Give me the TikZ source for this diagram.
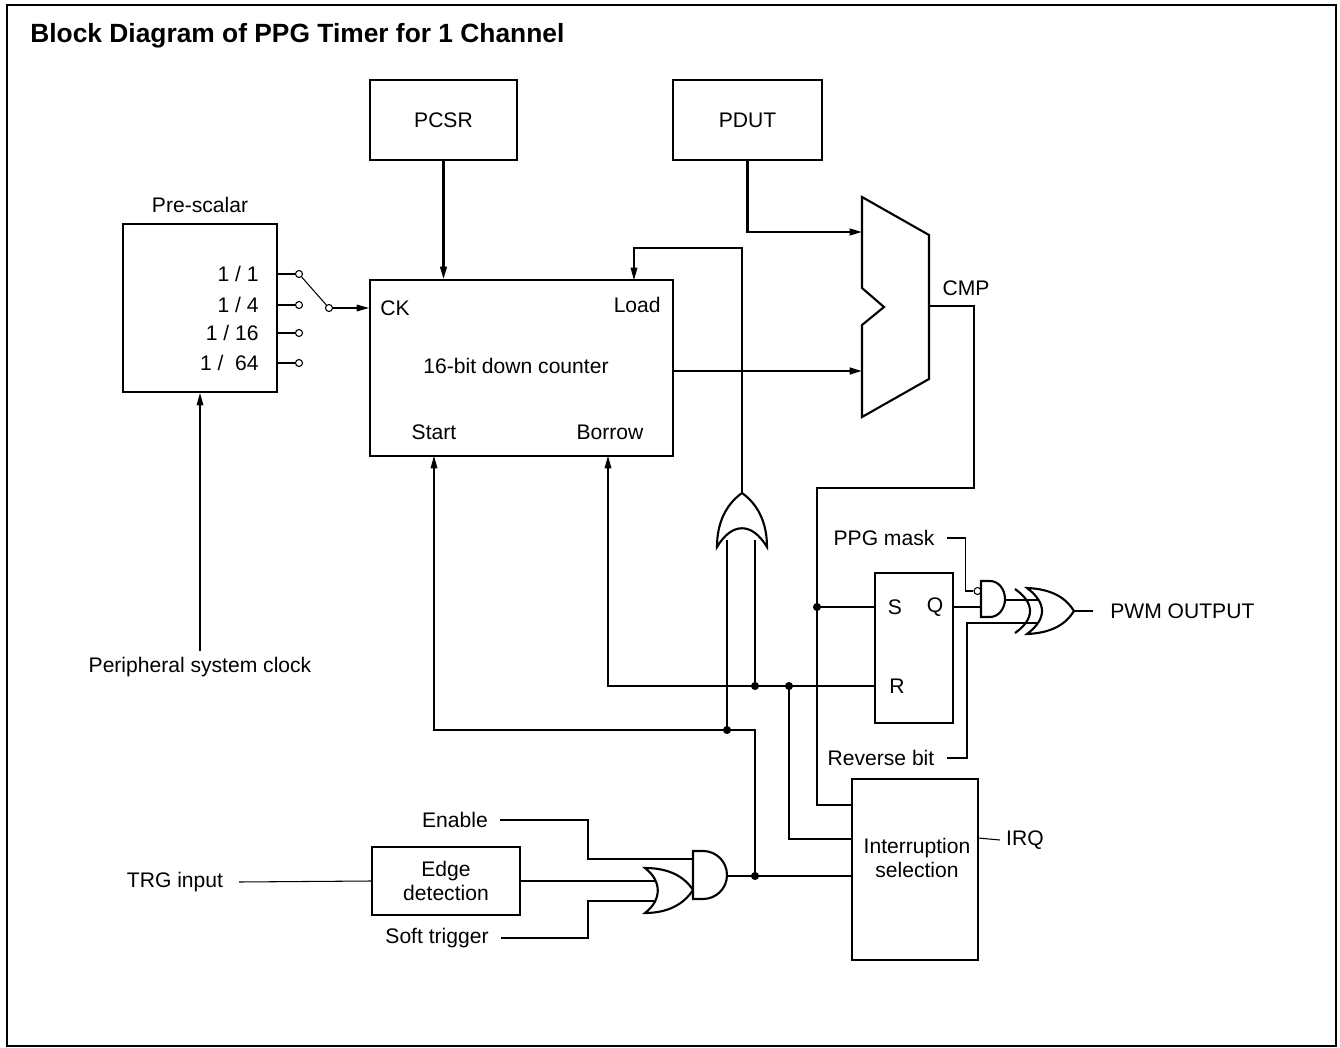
\documentclass[tikz,border=0pt]{standalone}
\usepackage{fontspec}
\setmainfont{Liberation Sans}
\usetikzlibrary{arrows.meta}

\tikzset{
	box/.style={draw, line width=1.2pt, inner sep=0pt},
	lbl/.style={inner xsep=7pt},
	wire/.style={line width=0.6pt},
	sig/.style={line width=0.6pt, -{Triangle[length=7pt, width=3.8pt]}},
	bus/.style={line width=1.2pt, -{Triangle[length=7pt, width=3.8pt]}},
	gate/.style={line width=1.2pt, fill=white},
	contact/.style={circle, draw, line width=0.6pt, fill=white, inner sep=0pt, minimum size=4pt},
	junction/.style={circle, fill, inner sep=0pt, minimum size=4.6pt},
}

\begin{document}
\begin{tikzpicture}[x=0.02cm, y=-0.02cm, font=\fontsize{12}{14}\selectfont]
	\useasboundingbox (0,0) rectangle (1340,1048);
	% frame and title
	\draw[line width=1.2pt] (7,5) rectangle (1336,1046);
	\node[anchor=west, inner sep=0pt, font=\bfseries\fontsize{15}{18}\selectfont] (title) at (30,36) {Block Diagram of PPG Timer for 1 Channel};

	% registers
	\node[box, minimum width=2.94cm, minimum height=1.6cm] (pcsr) at (443.5,120) {PCSR};
	\node[box, minimum width=2.98cm, minimum height=1.6cm] (pdut) at (747.5,120) {PDUT};

	% pre-scalar and clock switch
	\node (presclbl) at (200,205) {Pre-scalar};
	\node[box, minimum width=3.08cm, minimum height=3.36cm] (presc) at (200,308) {};
	\foreach \y/\d [count=\i] in {274/1, 305/4, 333/16, 363/{\ 64}} {
		\node[anchor=east, inner sep=0pt] (div\i) at (259,\y) {1 / \d};
		\node[contact] (c\i) at (299,\y) {};
		\draw[wire] (presc.east |- c\i) -- (c\i.west);
	}
	\node[contact] (pivot) at (329,308) {};
	\draw[wire] (c1) -- (pivot);
	\node (psc) at (200,667) {Peripheral system clock};
	\draw[sig] (psc.north) -- (presc.south);

	% 16-bit down counter
	\node[box, minimum width=6.06cm, minimum height=3.52cm] (cnt) at (521.5,368) {};
	\node (cntlbl) at (516,366) {16-bit down counter};
	\node[anchor=west, inner sep=0pt] (ck) at (380,308) {CK};
	\node[anchor=east, inner sep=0pt] (load) at (661,305) {Load};
	\node (start) at (434,432) {Start};
	\node (borrow) at (610,432) {Borrow};
	\coordinate (ldin) at (634,280);
	\coordinate (stin) at (434,456);
	\coordinate (brin) at (608,456);
	\draw[sig] (pivot) -- (pivot -| cnt.west);
	\draw[bus] (pcsr.south) -- (pcsr.south |- cnt.north);

	% comparator
	\draw[line width=1.2pt] (862,197) -- (929,235) -- (929,379) -- (862,417) -- (862,325) -- (884,307) -- (862,288) -- cycle;
	\coordinate (cmpa) at (862,232);
	\coordinate (cmpb) at (862,371);
	\coordinate (cmpo) at (929,306);
	\node (cmp) at (966,288) {CMP};
	\draw[bus] (pdut.south) |- (cmpa);
	\draw[bus] (cnt.east |- cmpb) -- (cmpb);

	% flip-flop
	\node[box, minimum width=1.56cm, minimum height=3cm] (ff) at (914,648) {};
	\node (s) at (895,607) {S};
	\node (q) at (935,607) {Q};
	\node (r) at (897,686) {R};
	\coordinate (rin) at (875,686);

	% interruption selection
	\node[box, minimum width=2.52cm, minimum height=3.62cm] (intsel) at (915,869.5) {};
	\node[align=center] (intlbl) at (917,858) {Interruption\\selection};
	\coordinate (isa) at (852,805);
	\coordinate (isb) at (852,839);
	\coordinate (irqpin) at (978,838);
	\node[anchor=west] (irq) at (1000,840) {IRQ};
	\draw[wire] (irqpin) -- (irq.west);

	% trigger input
	\node[lbl, inner xsep=9pt] (trg) at (175,882) {TRG input};
	\node[box, minimum width=2.96cm, minimum height=1.36cm, align=center, font=\fontsize{12}{13.7}\selectfont] (edge) at (446,881) {Edge\\detection};
	\node[lbl] (en) at (455,820) {Enable};
	\node[lbl] (soft) at (437,938) {Soft trigger};
	\coordinate (oi1) at (662,881);
	\coordinate (oi2) at (662,901);
	\coordinate (ai1) at (693,859);
	\coordinate (ao) at (727,876);
	\draw[wire] (trg.east) -- (edge.west);
	\draw[wire] (edge.east) -- (oi1);
	\draw[wire] (soft.east) -| ([xshift=-1.48cm]oi2) -- (oi2);
	\draw[wire] (en.east) -| ([xshift=-2.1cm]ai1) -- (ai1);
	\draw[gate] (645,868) .. controls (668,868) and (684,876) .. (693,890) .. controls (684,904) and (668,913) .. (645,913) .. controls (662,900) and (662,881) .. (645,868) -- cycle;
	\draw[gate] (693,851) -- (703,851) .. controls (716.3,851) and (727,861.7) .. (727,875) .. controls (727,888.3) and (716.3,899) .. (703,899) -- (693,899) -- cycle;

	% reload OR gate
	\coordinate (orin1) at (727,540);
	\coordinate (orin2) at (755,540);
	\coordinate (ortip) at (742,493);
	\coordinate (jst) at (727,730);
	\coordinate (jor2) at (755,686);
	\coordinate (jirq) at (789,686);
	\coordinate (jtrg) at (755,876);
	\coordinate (jset) at (817,607);
	\draw[wire] (orin1) -- (jst);
	\draw[wire] (orin2) -- (jor2);
	\draw[gate] (717,547) .. controls (717,520) and (728,503) .. (742,493) .. controls (756,503) and (767,520) .. (767,547) .. controls (752,522) and (732,522) .. (717,547) -- cycle;
	\draw[sig] (ortip) |- ([yshift=0.64cm]ldin) -- (ldin);

	% feedback lines
	\draw[sig] (jtrg) -- (jtrg |- jst) -- (stin |- jst) -- (stin);
	\draw[sig] (rin) -| (brin);
	\draw[wire] (jirq) |- (isb);
	\draw[wire] (ao) -- (ao -| intsel.west);
	\draw[wire] (cmpo) -- ++(45,0) |- ([yshift=2.38cm]jset) -- (jset |- isa) -- (isa);
	\draw[wire] (jset) -- (jset -| ff.west);
	\foreach \j in {jst, jor2, jirq, jtrg, jset}
		\node[junction] at (\j) {};

	% output stage
	\node[lbl] (ppgm) at (884,538) {PPG mask};
	\node[lbl] (revb) at (881,758) {Reverse bit};
	\node[anchor=west, inner sep=0pt] (pwm) at (1110,611) {PWM OUTPUT};
	\coordinate (mq) at (981,607);
	\coordinate (mo) at (1005,600);
	\coordinate (xa) at (1040,600);
	\coordinate (xb) at (1040,623);
	\coordinate (xo) at (1074,611);
	\node[contact] (mbub) at (977.5,591) {};
	\draw[wire] (ppgm.east) -| ([xshift=-0.16cm]mbub.west) -- (mbub.west);
	\draw[wire] (mq -| ff.east) -- (mq);
	\draw[wire] (mo) -- (xa);
	\draw[wire] (revb.east) -| ([xshift=-1.46cm]xb) -- (xb);
	\draw[gate] (981,581) -- (990,581) .. controls (998.3,581) and (1005,589.1) .. (1005,599) .. controls (1005,608.9) and (998.3,617) .. (990,617) -- (981,617) -- cycle;
	\draw[line width=1.2pt] (1015,589) .. controls (1035,603) and (1035,619) .. (1015,633);
	\draw[gate] (1027,588) .. controls (1052,589) and (1066,598) .. (1074,611) .. controls (1066,624) and (1052,633) .. (1027,634) .. controls (1047,619) and (1047,603) .. (1027,588) -- cycle;
	\draw[wire] (xo) -- ([xshift=-0.34cm]pwm.west);
\end{tikzpicture}
\end{document}
